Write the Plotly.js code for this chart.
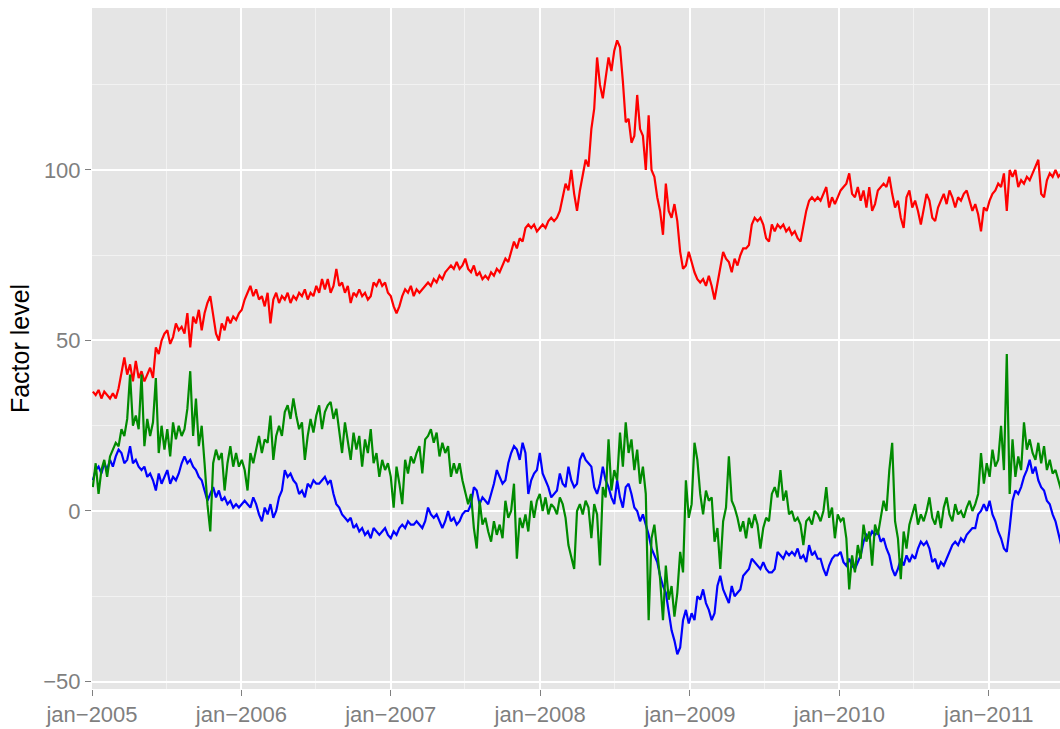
<!DOCTYPE html>
<html>
<head>
<meta charset="utf-8">
<script src="https://cdn.plot.ly/plotly-3.0.1.min.js"></script>
<style>
  html, body { margin: 0; padding: 0; background: #ffffff; }
  #chart { width: 1060px; height: 729px; }
</style>
</head>
<body>
<div id="chart"></div>
<script>
// Weekly observations starting Monday 3 Jan 2005
const startDate = '2005-01-03';

const redValues = [
  35,34,35.5,33,35,34,33,34.5,33,36,
  41,45,40,43,38,44,39,41,38,40,
  42,39,48,46,50,52,53,49,51,55,
  53,54,52,58,48,57,55,59,53,58,
  61,63,57,52,50,55,53,57,55,57,
  56,58,59,62,64,66,63,65,62,63,
  60,64,55,62,64,61,63,62,64,61,
  63,62,64,63,65,62,64,63,66,64,
  68,65,68,64,66,71,66,67,64,66,
  61,64,63,65,63,64,62,63,67,66,
  68,66,67,64,63,60,58,60,63,65,
  64,66,63,65,64,65,66,67,66,68,
  67,69,68,70,71,72,71,73,71,72,
  74,71,70,72,69,70,68,69,68,70,
  69,71,70,72,74,73,76,79,77,80,
  79,83,84,83,84,82,83,84,83,85,
  86,85,86,88,92,96,94,100,93,88,
  94,99,103,101,112,118,133,125,121,127,
  133,129,135,138,136,126,114,115,108,110,
  122,112,110,100,116,100,98,92,88,81,
  96,88,86,90,85,76,71,72,76,73,
  70,68,67,68,66,69,66,62,67,71,
  76,74,73,70,74,72,75,77,77,78,
  84,86,85,86,84,80,79,84,82,84,
  83,84,82,83,81,82,80,79,84,88,
  91,92,91,92,91,93,95,89,92,90,
  92,94,95,96,99,93,92,95,91,94,
  89,95,88,90,94,95,96,95,98,93,
  89,91,86,83,92,94,89,91,88,84,
  89,93,91,86,85,89,91,93,90,94,
  92,89,92,91,93,94,91,88,90,87,
  82,89,88,91,93,94,96,95,99,88,
  100,98,100,95,97,96,98,97,99,101,
  103,93,92,97,99,98,100,98,99
];

const blueValues = [
  9,12,13,11,14,12,15,13,16,18,
  17,14,15,19,14,15,13,12,13,10,
  11,9,6,11,8,10,12,8,10,9,
  11,14,16,14,15,13,12,10,9,6,
  3,5,7,4,6,3,4,2,3,1,
  2,1,2,3,2,1,4,2,-1,-3,
  1,-1,2,-2,0,4,6,12,10,11,
  9,8,5,6,4,8,7,9,8,8,
  9,10,8,9,5,2,1,-1,-2,-3,
  -2,-5,-4,-6,-5,-7,-6,-8,-5,-6,
  -7,-6,-5,-7,-8,-6,-7,-5,-4,-5,
  -3,-4,-4,-3,-4,-5,-3,1,-1,-2,
  -1,-3,-5,-3,0,-3,-2,-4,-3,-1,
  0,0,2,7,6,2,4,3,2,5,
  8,12,10,8,9,14,17,19,18,15,
  20,17,5,9,11,12,17,11,9,7,
  4,5,6,11,8,7,13,9,7,8,
  15,17,15,14,13,7,5,8,13,9,
  7,4,2,9,4,1,7,8,5,1,
  0,-3,-1,-4,-7,-11,-13,-15,-19,-22,
  -24,-30,-35,-38,-42,-40,-32,-29,-33,-30,
  -32,-25,-26,-23,-27,-29,-32,-30,-22,-19,
  -23,-25,-27,-22,-25,-24,-23,-19,-18,-17,
  -14,-15,-16,-17,-15,-17,-18,-18,-17,-12,
  -13,-14,-12,-13,-12,-13,-11,-14,-13,-15,
  -10,-13,-12,-14,-14,-17,-19,-16,-14,-13,
  -13,-12,-15,-16,-14,-16,-17,-15,-13,-9,
  -7,-8,-6,-7,-6,-9,-8,-11,-13,-17,
  -19,-17,-14,-16,-13,-15,-13,-14,-11,-9,
  -10,-9,-11,-15,-14,-17,-15,-16,-14,-12,
  -10,-9,-10,-8,-9,-7,-6,-5,-5,-1,
  0,2,0,3,-1,-3,-6,-8,-11,-12,
  -5,3,6,5,7,10,12,15,11,13,
  9,7,6,3,2,-1,-3,-7,-10
];

const greenValues = [
  7,14,5,12,15,10,16,18,20,19,
  24,22,27,40,25,28,24,40,19,27,
  22,26,39,17,25,18,24,16,26,21,
  25,22,24,30,41,22,33,19,25,14,
  2,-6,14,18,15,17,6,14,19,13,
  17,13,15,12,6,17,14,18,22,17,
  21,20,28,15,22,25,22,29,31,27,
  33,28,24,26,15,22,27,23,28,31,
  24,29,31,32,27,30,23,17,26,21,
  15,23,18,22,13,21,17,24,14,17,
  10,15,12,14,10,1,13,8,2,15,
  11,16,14,17,19,11,21,22,24,20,
  23,16,20,17,19,10,14,11,14,9,
  5,2,5,-5,-11,3,-4,-2,-6,-9,
  -3,-7,-4,-8,3,-2,0,8,-14,-2,
  -5,-1,-6,3,-2,3,5,0,4,-1,
  2,1,-1,4,2,-2,-10,-14,-17,0,
  2,-1,3,1,-8,2,-1,-16,7,4,
  21,6,12,9,23,13,26,17,21,12,
  18,8,13,5,-32,-8,-4,-12,-20,-32,
  -16,-26,-22,-31,-24,-12,-18,9,-2,2,
  20,15,5,-1,6,3,4,-9,-5,-17,
  -3,1,16,3,1,-2,-6,-3,-8,-2,
  -5,-1,-4,-11,-5,-2,-3,5,7,4,
  12,3,6,-1,0,-3,-2,-4,-10,-3,
  -2,-4,0,-1,-3,0,7,-2,1,-8,
  -1,-3,-2,-8,-23,-13,-18,-10,-14,-4,
  -9,-6,-16,-4,-7,-2,3,0,12,20,
  -3,-8,-20,-6,-11,-4,-1,2,-4,-1,
  -3,0,4,-2,-4,0,-5,1,4,-1,
  -3,2,-1,0,-2,1,3,0,2,5,
  17,8,14,10,18,13,15,25,12,46,
  5,21,10,16,12,26,18,21,17,15,
  20,14,19,12,15,11,12,9,6
];

const xTickVals = ['2005-01-01','2006-01-01','2007-01-01','2008-01-01','2009-01-01','2010-01-01','2011-01-01'];
const xTickText = ['jan\u22122005','jan\u22122006','jan\u22122007','jan\u22122008','jan\u22122009','jan\u22122010','jan\u22122011'];
const xMinorVals = ['2005-07-01','2006-07-01','2007-07-01','2008-07-01','2009-07-01','2010-07-01','2011-07-01'];
const yTickVals = [-50, 0, 50, 100];
const yTickText = ['\u221250', '0', '50', '100'];
const yMinorVals = [-25, 25, 75, 125];

const n = Math.max(redValues.length, blueValues.length, greenValues.length);
const t0 = Date.parse(startDate + 'T00:00:00Z');
const dates = [];
for (let i = 0; i < n; i++) {
  dates.push(new Date(t0 + i * 7 * 86400000).toISOString().slice(0, 10));
}

const traces = [
  { x: dates.slice(0, redValues.length), y: redValues, type: 'scatter', mode: 'lines',
    line: { color: '#FF0000', width: 2.2 }, hoverinfo: 'skip' },
  { x: dates.slice(0, blueValues.length), y: blueValues, type: 'scatter', mode: 'lines',
    line: { color: '#0000FF', width: 2.2 }, hoverinfo: 'skip' },
  { x: dates.slice(0, greenValues.length), y: greenValues, type: 'scatter', mode: 'lines',
    line: { color: '#008B00', width: 2.2 }, hoverinfo: 'skip' }
];

const tickFont = { family: '"Liberation Sans", Arial, Helvetica, sans-serif', size: 22, color: '#7F7F7F' };

const layout = {
  width: 1060, height: 729,
  margin: { l: 92, r: 0, t: 8, b: 40, pad: 0 },
  paper_bgcolor: '#FFFFFF',
  plot_bgcolor: '#E5E5E5',
  showlegend: false,
  xaxis: {
    type: 'date',
    range: ['2005-01-01', '2011-06-24'],
    tickmode: 'array', tickvals: xTickVals, ticktext: xTickText,
    ticks: 'outside', ticklen: 6, tickwidth: 1, tickcolor: '#7F7F7F',
    tickfont: tickFont,
    showgrid: true, gridcolor: '#FFFFFF', gridwidth: 2,
    zeroline: false, showline: false, automargin: false,
    minor: { tickmode: 'array', tickvals: xMinorVals, showgrid: true, gridcolor: '#F2F2F2', gridwidth: 1, ticks: '' }
  },
  yaxis: {
    range: [-52.2, 147.5],
    tickmode: 'array', tickvals: yTickVals, ticktext: yTickText,
    ticks: 'outside', ticklen: 6, tickwidth: 1, tickcolor: '#7F7F7F',
    tickfont: tickFont,
    showgrid: true, gridcolor: '#FFFFFF', gridwidth: 2,
    zeroline: false, showline: false, automargin: false,
    minor: { tickmode: 'array', tickvals: yMinorVals, showgrid: true, gridcolor: '#F2F2F2', gridwidth: 1, ticks: '' },
    title: { text: 'Factor level', font: { family: '"Liberation Sans", Arial, Helvetica, sans-serif', size: 25, color: '#000000' }, standoff: 6 }
  }
};

Plotly.newPlot('chart', traces, layout, { displayModeBar: false, staticPlot: true });
</script>
</body>
</html>
